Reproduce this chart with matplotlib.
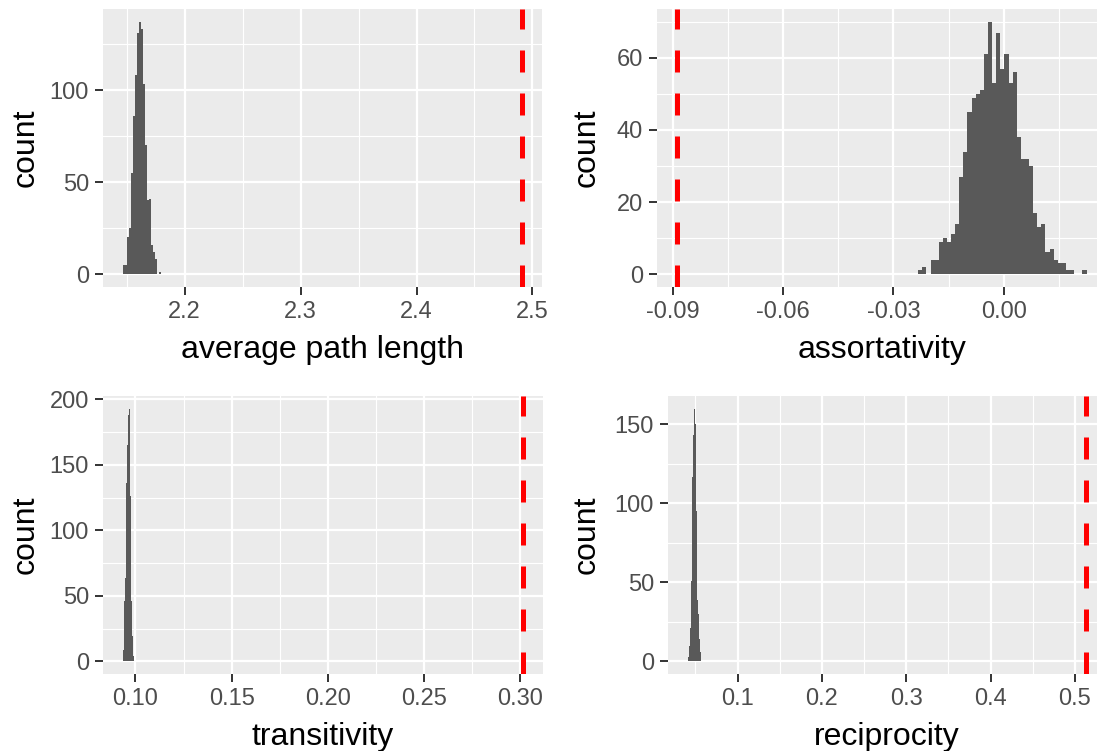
import numpy as np
import matplotlib
matplotlib.use('Agg')
import matplotlib.pyplot as plt
from matplotlib.ticker import AutoMinorLocator

plt.rcParams['font.family'] = ['Liberation Sans', 'DejaVu Sans']
plt.rcParams['axes.unicode_minus'] = False

# average path length: bin start, bin width, counts, observed value
apl_start, apl_width = 2.1469, 0.00173
apl_counts = [5, 5, 20, 25, 55, 86, 108, 131, 137, 133, 103, 70, 40, 41, 16, 12, 8, 0, 1]
apl_obs = 2.491
apl_xticks = [2.2, 2.3, 2.4, 2.5]
apl_yticks = [0, 50, 100]

# assortativity
ass_start, ass_width = -0.02326, 0.001118
ass_counts = [1, 2, 0, 4, 4, 9, 10, 9, 11, 14, 27, 34, 45, 49, 50, 51, 61, 70, 53, 67,
              57, 61, 53, 56, 38, 32, 32, 30, 17, 13, 14, 6, 7, 4, 3, 3, 1, 1, 0, 0, 1]
ass_obs = -0.0888
ass_xticks = [-0.09, -0.06, -0.03, 0.00]
ass_yticks = [0, 20, 40, 60]

# transitivity
tra_start, tra_width = 0.0935, 0.000505
tra_counts = [9, 46, 64, 136, 165, 188, 193, 126, 46, 19, 4]
tra_obs = 0.3011
tra_xticks = [0.10, 0.15, 0.20, 0.25, 0.30]
tra_yticks = [0, 50, 100, 150, 200]

# reciprocity
rec_start, rec_width = 0.0412, 0.00108
rec_counts = [3, 10, 21, 51, 85, 117, 143, 160, 150, 95, 39, 30, 14, 6]
rec_obs = 0.5132
rec_xticks = [0.1, 0.2, 0.3, 0.4, 0.5]
rec_yticks = [0, 50, 100, 150]

W, H = 1097, 751
fig = plt.figure(figsize=(W / 100, H / 100), dpi=100, facecolor='white')


def panel(box, start, width, counts, obs, xticks, xfmt, yticks, xlabel, ylab_x, xlab_y):
    x0, y0, x1, y1 = box  # pixels, from top-left
    ax = fig.add_axes([x0 / W, 1 - y1 / H, (x1 - x0) / W, (y1 - y0) / H])
    counts = np.array(counts)
    edges = start + width * np.arange(len(counts) + 1)
    ax.bar(edges[:-1], counts, width=width, align='edge', color='#595959', linewidth=0, zorder=2)
    ax.axvline(obs, color='red', lw=3.6, linestyle=(0, (4.4, 4.2)), zorder=3)

    lo, hi = min(edges[0], obs), max(edges[-1], obs)
    pad = 0.05 * (hi - lo)
    ax.set_xlim(lo - pad, hi + pad)
    ax.set_ylim(-0.05 * counts.max(), 1.05 * counts.max())

    ax.set_facecolor('#EBEBEB')
    for s in ax.spines.values():
        s.set_visible(False)
    ax.set_xticks(xticks)
    ax.set_xticklabels([xfmt % v for v in xticks])
    ax.set_yticks(yticks)
    ax.xaxis.set_minor_locator(AutoMinorLocator(2))
    ax.yaxis.set_minor_locator(AutoMinorLocator(2))
    ax.grid(True, which='major', color='white', lw=1.6, zorder=0)
    ax.grid(True, which='minor', color='white', lw=0.8, zorder=0)
    ax.set_axisbelow(True)
    ax.tick_params(which='major', length=5.5, width=1.4, color='#333333',
                   labelcolor='#4D4D4D', labelsize=17, pad=4.5)
    ax.tick_params(which='minor', length=0)

    ax.set_xlabel(xlabel, fontsize=23, color='black')
    ax.set_ylabel('count', fontsize=23, color='black')
    ax.xaxis.set_label_coords(0.5, -(xlab_y - y1) / (y1 - y0))
    ax.xaxis.label.set_va('center')
    ax.yaxis.set_label_coords((ylab_x - x0) / (x1 - x0), 0.5)
    ax.yaxis.label.set_va('center')
    return ax


panel((103, 9.3, 542, 286.7), apl_start, apl_width, apl_counts, apl_obs,
      apl_xticks, '%.1f', apl_yticks, 'average path length', 26, 350)
panel((657, 9.3, 1107, 286.7), ass_start, ass_width, ass_counts, ass_obs,
      ass_xticks, '%.2f', ass_yticks, 'assortativity', 587, 350)
panel((103, 396, 542.5, 674), tra_start, tra_width, tra_counts, tra_obs,
      tra_xticks, '%.2f', tra_yticks, 'transitivity', 26, 737)
panel((668, 396, 1106, 674), rec_start, rec_width, rec_counts, rec_obs,
      rec_xticks, '%.1f', rec_yticks, 'reciprocity', 587, 737)

fig.savefig('out.png', dpi=100, facecolor='white')
